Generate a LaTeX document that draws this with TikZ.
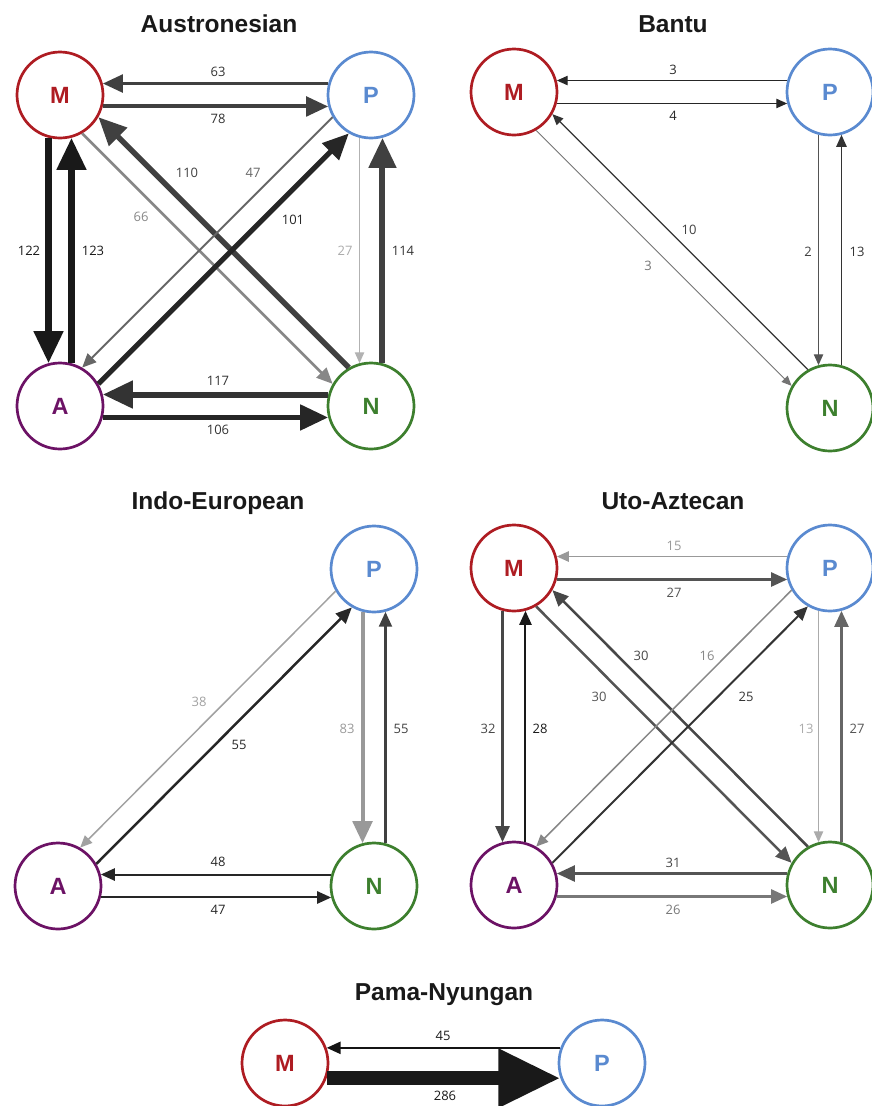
\documentclass[tikz,border=0pt]{standalone}
\usepackage{fontspec}
\setmainfont{Liberation Sans}
\newfontfamily\numfont{Open Sans}
\usepackage{xcolor}
\usetikzlibrary{arrows.meta}

\definecolor{mred}{HTML}{AE1C22}
\definecolor{pblue}{HTML}{5A8AD0}
\definecolor{apurple}{HTML}{6C1265}
\definecolor{ngreen}{HTML}{3D7F2E}

\tikzset{
  state/.style={circle,draw,line width=2.7pt,minimum size=86pt,inner sep=0pt,
    font=\bfseries\fontsize{23.5}{23.5}\selectfont},
  flow/.style={-{Triangle[length=6pt 4,width=5pt 3.6]}},
  count/.style={font=\numfont\fontsize{13}{13}\selectfont,inner sep=0pt},
  paneltitle/.style={anchor=base,font=\bfseries\fontsize{24.5}{24.5}\selectfont,text=black!90}
}

\begin{document}
\begin{tikzpicture}[x=1pt,y=-1pt]
  \useasboundingbox (0,0) rectangle (871,1106);

  % Austronesian
  \node[paneltitle] (atitle) at (219,32) {Austronesian};
  \node[state,mred] (aM) at (60,95) {M};
  \node[state,pblue] (aP) at (371,95) {P};
  \node[state,apurple] (aA) at (60,406) {A};
  \node[state,ngreen] (aN) at (371,406) {N};
  \draw[flow,line width=3.5pt,black!75] (aP.165) -- (aM.15);
  \draw[flow,line width=4pt,black!75] (aM.-15) -- (aP.195);
  \draw[flow,line width=6.5pt,black!90] (aM.255) -- (aA.105);
  \draw[flow,line width=6.5pt,black!90] (aA.75) -- (aM.285);
  \draw[flow,line width=1.2pt,black!30] (aP.255) -- (aN.105);
  \draw[flow,line width=6pt,black!75] (aN.75) -- (aP.285);
  \draw[flow,line width=6pt,black!80] (aN.165) -- (aA.15);
  \draw[flow,line width=5.5pt,black!85] (aA.-15) -- (aN.195);
  \draw[flow,line width=2.5pt,black!47] (aM.-60) -- (aN.150);
  \draw[flow,line width=5.5pt,black!75] (aN.120) -- (aM.-30);
  \draw[flow,line width=2pt,black!60] (aP.210) -- (aA.60);
  \draw[flow,line width=5pt,black!85] (aA.30) -- (aP.240);
  \node[count,black!80] at (218,72) {63};
  \node[count,black!80] at (218,119) {78};
  \node[count,black!90] at (29,251) {122};
  \node[count,black!90] at (93,251) {123};
  \node[count,black!33] at (345,251) {27};
  \node[count,black!80] at (403,251) {114};
  \node[count,black!80] at (218,381) {117};
  \node[count,black!80] at (218,430) {106};
  \node[count,black!75] at (187,173) {110};
  \node[count,black!60] at (253,173) {47};
  \node[count,black!47] at (141,217) {66};
  \node[count,black!85] at (293,220) {101};

  % Bantu
  \node[paneltitle] (btitle) at (673,32) {Bantu};
  \node[state,mred] (bM) at (514,92) {M};
  \node[state,pblue] (bP) at (830,92) {P};
  \node[state,ngreen] (bN) at (830,408) {N};
  \draw[flow,line width=1.2pt,black!85] (bP.165) -- (bM.15);
  \draw[flow,line width=1.2pt,black!85] (bM.-15) -- (bP.195);
  \draw[flow,line width=1pt,black!55] (bM.-60) -- (bN.150);
  \draw[flow,line width=1.2pt,black!80] (bN.120) -- (bM.-30);
  \draw[flow,line width=1.2pt,black!67] (bP.255) -- (bN.105);
  \draw[flow,line width=1.5pt,black!80] (bN.75) -- (bP.285);
  \node[count,black!85] at (673,70) {3};
  \node[count,black!85] at (673,116) {4};
  \node[count,black!55] at (648,266) {3};
  \node[count,black!75] at (689,230) {10};
  \node[count,black!75] at (808,252) {2};
  \node[count,black!80] at (857,252) {13};

  % Indo-European
  \node[paneltitle] (ititle) at (218,509) {Indo-European};
  \node[state,pblue] (iP) at (374,569) {P};
  \node[state,apurple] (iA) at (58,886) {A};
  \node[state,ngreen] (iN) at (374,886) {N};
  \draw[flow,line width=1.5pt,black!37] (iP.210) -- (iA.60);
  \draw[flow,line width=2.5pt,black!85] (iA.30) -- (iP.240);
  \draw[flow,line width=4pt,black!40] (iP.255) -- (iN.105);
  \draw[flow,line width=2.2pt,black!75] (iN.75) -- (iP.285);
  \draw[flow,line width=2pt,black!85] (iN.165) -- (iA.15);
  \draw[flow,line width=2pt,black!85] (iA.-15) -- (iN.195);
  \node[count,black!37] at (199,702) {38};
  \node[count,black!85] at (239,745) {55};
  \node[count,black!40] at (347,729) {83};
  \node[count,black!75] at (401,729) {55};
  \node[count,black!85] at (218,862) {48};
  \node[count,black!85] at (218,910) {47};

  % Uto-Aztecan
  \node[paneltitle] (utitle) at (673,509) {Uto-Aztecan};
  \node[state,mred] (uM) at (514,568) {M};
  \node[state,pblue] (uP) at (830,568) {P};
  \node[state,apurple] (uA) at (514,885) {A};
  \node[state,ngreen] (uN) at (830,885) {N};
  \draw[flow,line width=1.5pt,black!40] (uP.165) -- (uM.15);
  \draw[flow,line width=2.5pt,black!67] (uM.-15) -- (uP.195);
  \draw[flow,line width=2.5pt,black!72] (uM.255) -- (uA.105);
  \draw[flow,line width=2pt,black!90] (uA.75) -- (uM.285);
  \draw[flow,line width=1.2pt,black!33] (uP.255) -- (uN.105);
  \draw[flow,line width=2.5pt,black!60] (uN.75) -- (uP.285);
  \draw[flow,line width=3pt,black!67] (uN.165) -- (uA.15);
  \draw[flow,line width=2.5pt,black!53] (uA.-15) -- (uN.195);
  \draw[flow,line width=2.5pt,black!67] (uM.-60) -- (uN.150);
  \draw[flow,line width=2.5pt,black!72] (uN.120) -- (uM.-30);
  \draw[flow,line width=1.5pt,black!47] (uP.210) -- (uA.60);
  \draw[flow,line width=2pt,black!80] (uA.30) -- (uP.240);
  \node[count,black!40] at (674,546) {15};
  \node[count,black!67] at (674,593) {27};
  \node[count,black!72] at (488,729) {32};
  \node[count,black!90] at (540,729) {28};
  \node[count,black!33] at (806,729) {13};
  \node[count,black!67] at (857,729) {27};
  \node[count,black!72] at (673,863) {31};
  \node[count,black!53] at (673,910) {26};
  \node[count,black!67] at (599,697) {30};
  \node[count,black!72] at (641,656) {30};
  \node[count,black!47] at (707,656) {16};
  \node[count,black!80] at (746,697) {25};

  % Pama-Nyungan
  \node[paneltitle] (ptitle) at (444,1000) {Pama-Nyungan};
  \node[state,mred] (pM) at (285,1063) {M};
  \node[state,pblue] (pP) at (602,1063) {P};
  \draw[flow,line width=2pt,black!92] (pP.160) -- (pM.20);
  \draw[flow,line width=14pt,black!90] (pM.-20) -- (pP.200);
  \node[count,black!90] at (443,1036) {45};
  \node[count,black!90] at (445,1096) {286};
\end{tikzpicture}
\end{document}
